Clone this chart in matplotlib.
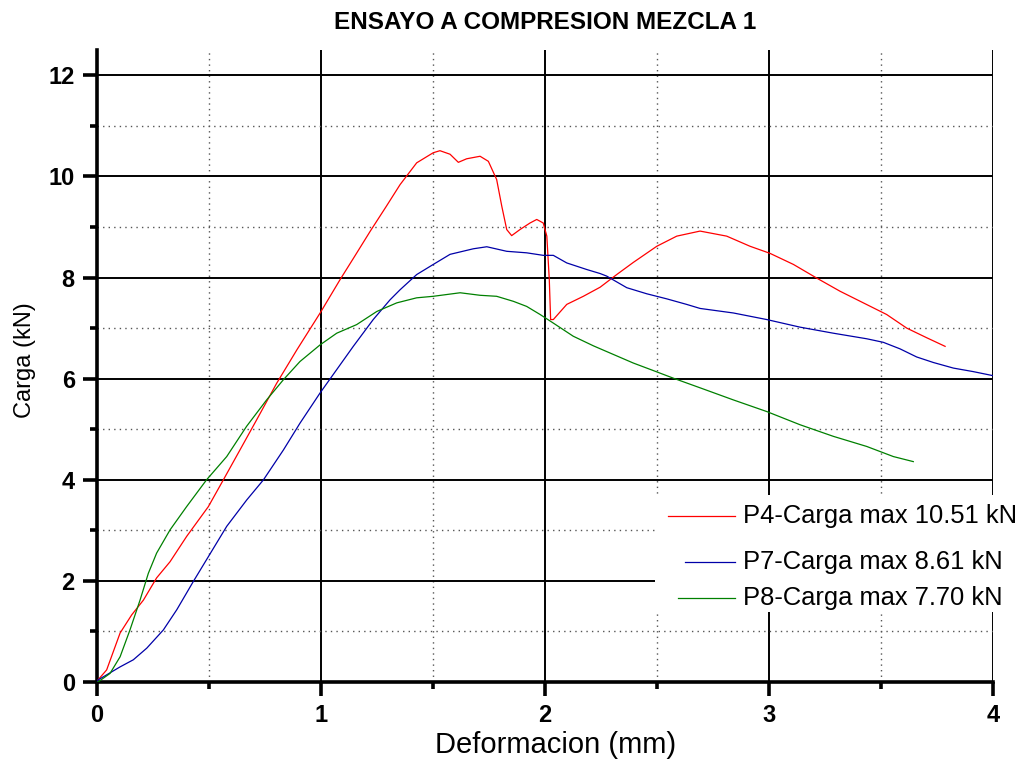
import matplotlib
matplotlib.use("Agg")
import matplotlib.pyplot as plt
from matplotlib.lines import Line2D
from matplotlib.patches import Rectangle
from matplotlib.ticker import MultipleLocator

plt.rcParams['font.family'] = ['Liberation Sans', 'DejaVu Sans']

# Curvas carga-deformacion (mm, kN)
p4_x = [0.0, 0.004, 0.043, 0.103, 0.155, 0.207, 0.266, 0.326, 0.40, 0.497, 0.564,
        0.638, 0.713, 0.802, 0.892, 0.996, 1.085, 1.15, 1.22, 1.29, 1.353, 1.427,
        1.501, 1.531, 1.576, 1.613, 1.650, 1.710, 1.747, 1.784, 1.807, 1.829, 1.851,
        1.888, 1.933, 1.963, 1.992, 2.008, 2.019, 2.025, 2.037, 2.097, 2.171, 2.246,
        2.320, 2.394, 2.499, 2.588, 2.692, 2.811, 2.915, 3.004, 3.109, 3.213, 3.317,
        3.421, 3.525, 3.615, 3.704, 3.786]
p4_y = [0.0, 0.04, 0.24, 0.97, 1.33, 1.62, 2.06, 2.38, 2.88, 3.47, 4.00,
        4.59, 5.19, 5.91, 6.57, 7.30, 7.96, 8.42, 8.92, 9.40, 9.84, 10.27,
        10.47, 10.51, 10.44, 10.28, 10.35, 10.40, 10.30, 9.94, 9.41, 8.95, 8.83,
        8.95, 9.08, 9.15, 9.08, 8.82, 7.96, 7.17, 7.17, 7.47, 7.63, 7.81,
        8.06, 8.30, 8.62, 8.82, 8.92, 8.82, 8.62, 8.48, 8.26, 7.99, 7.73,
        7.50, 7.27, 7.00, 6.81, 6.64]

p7_x = [0.0, 0.004, 0.103, 0.162, 0.222, 0.296, 0.356, 0.430, 0.497, 0.579, 0.668,
        0.743, 0.832, 0.906, 0.996, 1.070, 1.144, 1.233, 1.308, 1.353, 1.427, 1.501,
        1.576, 1.680, 1.740, 1.829, 1.918, 1.992, 2.037, 2.097, 2.186, 2.246, 2.275,
        2.365, 2.454, 2.543, 2.632, 2.692, 2.841, 2.990, 3.138, 3.287, 3.436, 3.510,
        3.585, 3.659, 3.734, 3.823, 3.912, 4.0]
p7_y = [0.0, 0.04, 0.30, 0.44, 0.67, 1.03, 1.43, 1.99, 2.48, 3.08, 3.60,
        4.00, 4.59, 5.12, 5.72, 6.18, 6.64, 7.17, 7.56, 7.76, 8.06, 8.26,
        8.46, 8.57, 8.61, 8.52, 8.49, 8.44, 8.44, 8.29, 8.16, 8.08, 8.03,
        7.80, 7.68, 7.58, 7.47, 7.39, 7.30, 7.17, 7.02, 6.90, 6.79, 6.72,
        6.59, 6.43, 6.32, 6.21, 6.14, 6.06]

p8_x = [0.0, 0.004, 0.058, 0.103, 0.147, 0.192, 0.229, 0.266, 0.326, 0.40, 0.489,
        0.579, 0.668, 0.757, 0.832, 0.906, 0.996, 1.070, 1.159, 1.249, 1.338, 1.427,
        1.501, 1.621, 1.710, 1.784, 1.859, 1.918, 1.978, 2.037, 2.126, 2.216, 2.305,
        2.394, 2.484, 2.573, 2.692, 2.841, 2.990, 3.138, 3.287, 3.436, 3.555, 3.644]
p8_y = [0.0, 0.0, 0.17, 0.50, 1.03, 1.62, 2.15, 2.55, 3.01, 3.47, 4.00,
        4.46, 5.06, 5.58, 5.98, 6.34, 6.67, 6.90, 7.07, 7.33, 7.50, 7.60,
        7.63, 7.70, 7.65, 7.63, 7.53, 7.43, 7.27, 7.10, 6.84, 6.65, 6.48,
        6.31, 6.16, 6.01, 5.82, 5.58, 5.35, 5.09, 4.86, 4.66, 4.46, 4.36]

series = [
    ('P4', p4_x, p4_y, '#ff0000'),
    ('P7', p7_x, p7_y, '#0000a8'),
    ('P8', p8_x, p8_y, '#008000'),
]

fig = plt.figure(figsize=(10.16, 7.59), dpi=100)
ax = fig.add_axes([0.0955, 0.1014, 0.8819, 0.8326])

for name, xs, ys, color in series:
    ax.plot(xs, ys, color=color, lw=0.9, zorder=3)

ax.set_xlim(0, 4)
ax.set_ylim(0, 12.5)
ax.xaxis.set_major_locator(MultipleLocator(1))
ax.xaxis.set_minor_locator(MultipleLocator(0.5))
ax.yaxis.set_major_locator(MultipleLocator(2))
ax.yaxis.set_minor_locator(MultipleLocator(1))

ax.grid(which='major', color='black', lw=1.4, ls='-')
ax.grid(which='minor', color='#555555', lw=1.0, ls=(0, (1, 3)))
ax.set_axisbelow(True)

for side in ['top', 'right']:
    ax.spines[side].set_visible(False)
for side in ['left', 'bottom']:
    ax.spines[side].set_linewidth(2.6)

ax.tick_params(which='major', direction='out', length=10, width=2.6, pad=6,
               labelsize=17)
ax.tick_params(which='minor', direction='out', length=5, width=2.6)
for lbl in ax.get_xticklabels() + ax.get_yticklabels():
    lbl.set_fontweight('bold')

ax.set_xlabel('Deformacion (mm)', fontsize=21)
ax.xaxis.set_label_coords(0.512, -0.078)
ax.set_ylabel('Carga (kN)', fontsize=17)
ax.yaxis.set_label_coords(-0.068, 0.51)
ax.set_title('ENSAYO A COMPRESION MEZCLA 1', fontsize=17.5, fontweight='bold', pad=15)

# Leyenda dibujada a mano sobre un fondo blanco
fig.patches.append(Rectangle((655 / 1016, 1 - 612 / 759), 361 / 1016, 117 / 759,
                             transform=fig.transFigure, facecolor='white',
                             edgecolor='none', zorder=2))
legend_rows = [(516, 668), (562, 685), (598, 678)]
for (name, xs, ys, color), (row_y, line_x0) in zip(series, legend_rows):
    yf = 1 - row_y / 759
    fig.lines.append(Line2D([line_x0 / 1016, 735 / 1016], [yf, yf],
                            transform=fig.transFigure, color=color, lw=0.9, zorder=3))
    fig.text(743 / 1016, yf, f'{name}-Carga max {max(ys):.2f} kN', fontsize=18.4,
             va='center', ha='left', zorder=3)

fig.savefig('out.png', dpi=100)
